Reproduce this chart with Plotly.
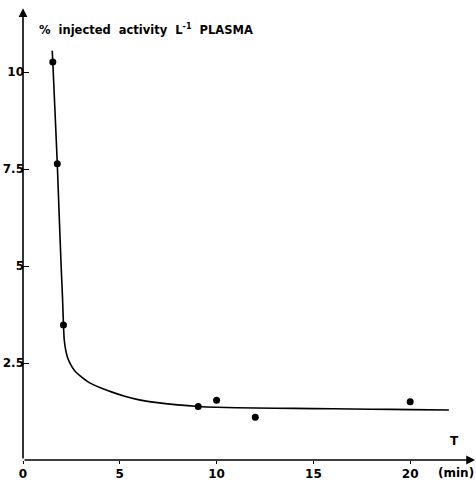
import plotly.graph_objects as go

# Measured plasma activity (time in min, % injected activity per litre)
t_points = [1.54, 1.77, 2.09, 9.05, 10.0, 12.0, 20.0]
c_points = [10.26, 7.64, 3.48, 1.38, 1.54, 1.10, 1.50]

# Hand-drawn fitted decay curve
t_curve = [1.51, 1.54, 1.66, 1.77, 1.87, 1.97, 2.04, 2.09, 2.13, 2.20, 2.30,
           2.45, 2.70, 2.97, 3.40, 4.00, 4.60, 5.21, 6.00, 6.94, 8.00, 9.05,
           10.0, 12.0, 14.0, 16.0, 18.0, 20.0, 22.0]
c_curve = [10.55, 10.26, 8.90, 7.64, 6.30, 5.00, 4.20, 3.48, 3.10, 2.85, 2.64,
           2.47, 2.28, 2.16, 2.00, 1.86, 1.75, 1.65, 1.55, 1.48, 1.42, 1.38,
           1.36, 1.34, 1.33, 1.32, 1.31, 1.30, 1.29]

x_ticks = [0, 5, 10, 15, 20]
x_tick_text = ["<b>0</b>", "<b>5</b>", "<b>10</b>", "<b>15</b>", "<b>20</b>"]
y_ticks = [2.5, 5, 7.5, 10]
y_tick_text = ["<b>2.5</b>", "<b>5</b>", "<b>7.5</b>", "<b>10</b>"]

FONT = "DejaVu Sans"

fig = go.Figure()
fig.add_trace(go.Scatter(x=t_curve, y=c_curve, mode="lines",
                         line=dict(color="black", width=1.6, shape="spline", smoothing=0.6),
                         hoverinfo="skip", showlegend=False))
fig.add_trace(go.Scatter(x=t_points, y=c_points, mode="markers",
                         marker=dict(color="black", size=7),
                         showlegend=False))

X_MAX = 23.4
Y_MAX = 11.86

# Axes drawn as arrows
fig.add_annotation(x=23.35, y=0, ax=0, ay=0, xref="x", yref="y", axref="x", ayref="y",
                   text="", showarrow=True, arrowhead=2, arrowsize=1.1, arrowwidth=1.6,
                   arrowcolor="black")
fig.add_annotation(x=0, y=11.65, ax=0, ay=0, xref="x", yref="y", axref="x", ayref="y",
                   text="", showarrow=True, arrowhead=2, arrowsize=1.1, arrowwidth=1.6,
                   arrowcolor="black")

fig.add_annotation(x=0.72, y=11.1, xref="x", yref="y", xanchor="left", yanchor="middle",
                   text="<b>%  injected  activity  L<sup>-1</sup>  PLASMA</b>", showarrow=False,
                   font=dict(family=FONT, size=11.5, color="black"))
fig.add_annotation(x=22.3, y=0.25, xref="x", yref="y", xanchor="center", yanchor="bottom",
                   text="<b>T</b>", showarrow=False, font=dict(family=FONT, size=12, color="black"))
fig.add_annotation(x=22.35, y=-0.008, xref="x", yref="paper", xanchor="center", yanchor="top",
                   text="<b>(min)</b>", showarrow=False, font=dict(family=FONT, size=12, color="black"))

fig.update_xaxes(range=[0, X_MAX], tickvals=x_ticks, ticktext=x_tick_text,
                 ticks="outside", ticklen=3, tickwidth=1.2, tickcolor="black",
                 showgrid=False, zeroline=False, showline=False,
                 tickfont=dict(family=FONT, size=12, color="black"))
fig.update_yaxes(range=[0, Y_MAX], tickvals=y_ticks, ticktext=y_tick_text,
                 ticks="inside", ticklen=6, tickwidth=1.2, tickcolor="black",
                 ticklabelstandoff=-2,
                 showgrid=False, zeroline=False, showline=False,
                 tickfont=dict(family=FONT, size=12, color="black"))

fig.update_layout(width=476, height=486, margin=dict(l=23, r=0, t=0, b=26),
                  plot_bgcolor="white", paper_bgcolor="white")

fig.write_html("out.html")
